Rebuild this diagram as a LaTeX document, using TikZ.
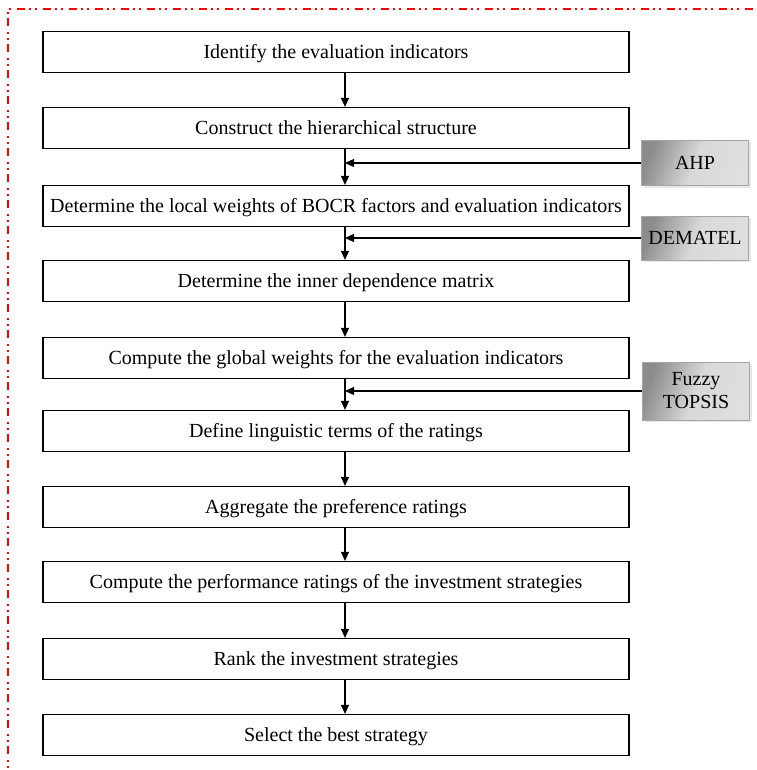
\documentclass[tikz,border=0pt]{standalone}
\usepackage{fontspec}
\setmainfont{Liberation Serif}
\usetikzlibrary{arrows.meta,shadows}
\begin{document}
\begin{tikzpicture}[x=1pt,y=-1pt,line width=1.3pt,>={Triangle[length=9pt,width=8pt]},
    etape/.style={draw,line width=1.2pt,minimum width=586pt,minimum height=41pt,inner sep=0pt,
                  text height=15pt,text depth=2pt,font=\fontsize{20}{24}\selectfont},
    methode/.style={draw=gray!70,line width=1pt,minimum width=107pt,inner sep=0pt,align=center,
                  font=\fontsize{20}{23}\selectfont,left color=gray!90,right color=gray!25,middle color=gray!30,
                  shading angle=70,drop shadow={shadow xshift=2pt,shadow yshift=-2pt,fill=gray!35}}]
    \useasboundingbox (0,0) rectangle (756,770);
    \draw[red,line width=1.2pt,dash pattern=on 8pt off 4pt on 2pt off 4pt on 2pt off 6pt]
          (8,780) -- (8,9) -- (770,9);
    \coordinate (axe) at (345,0);
    \node[etape] (ident)  at (336,52)  {Identify the evaluation indicators};
    \node[etape] (struct) at (336,128) {Construct the hierarchical structure};
    \node[etape] (local)  at (336,206) {Determine the local weights of BOCR factors and evaluation indicators};
    \node[etape] (inner)  at (336,281) {Determine the inner dependence matrix};
    \node[etape] (global) at (336,358) {Compute the global weights for the evaluation indicators};
    \node[etape] (termes) at (336,431) {Define linguistic terms of the ratings};
    \node[etape] (aggr)   at (336,507) {Aggregate the preference ratings};
    \node[etape] (perf)   at (336,582) {Compute the performance ratings of the investment strategies};
    \node[etape] (rang)   at (336,659) {Rank the investment strategies};
    \node[etape] (choix)  at (336,735) {Select the best strategy};
    \node[methode,minimum height=45pt] (ahp)     at (695,163) {AHP};
    \node[methode,minimum height=44pt] (dematel) at (695,238) {DEMATEL};
    \node[methode,minimum height=58pt] (topsis)  at (696,391) {Fuzzy\\TOPSIS};
    \foreach \a/\b in {ident/struct,struct/local,local/inner,inner/global,global/termes,
                       termes/aggr,aggr/perf,perf/rang,rang/choix}
        \draw[->] (\a.south -| axe) -- (\b.north -| axe);
    \foreach \m in {ahp,dematel,topsis}
        \draw[->] (\m.west) -- (\m.west -| axe);
\end{tikzpicture}
\end{document}
